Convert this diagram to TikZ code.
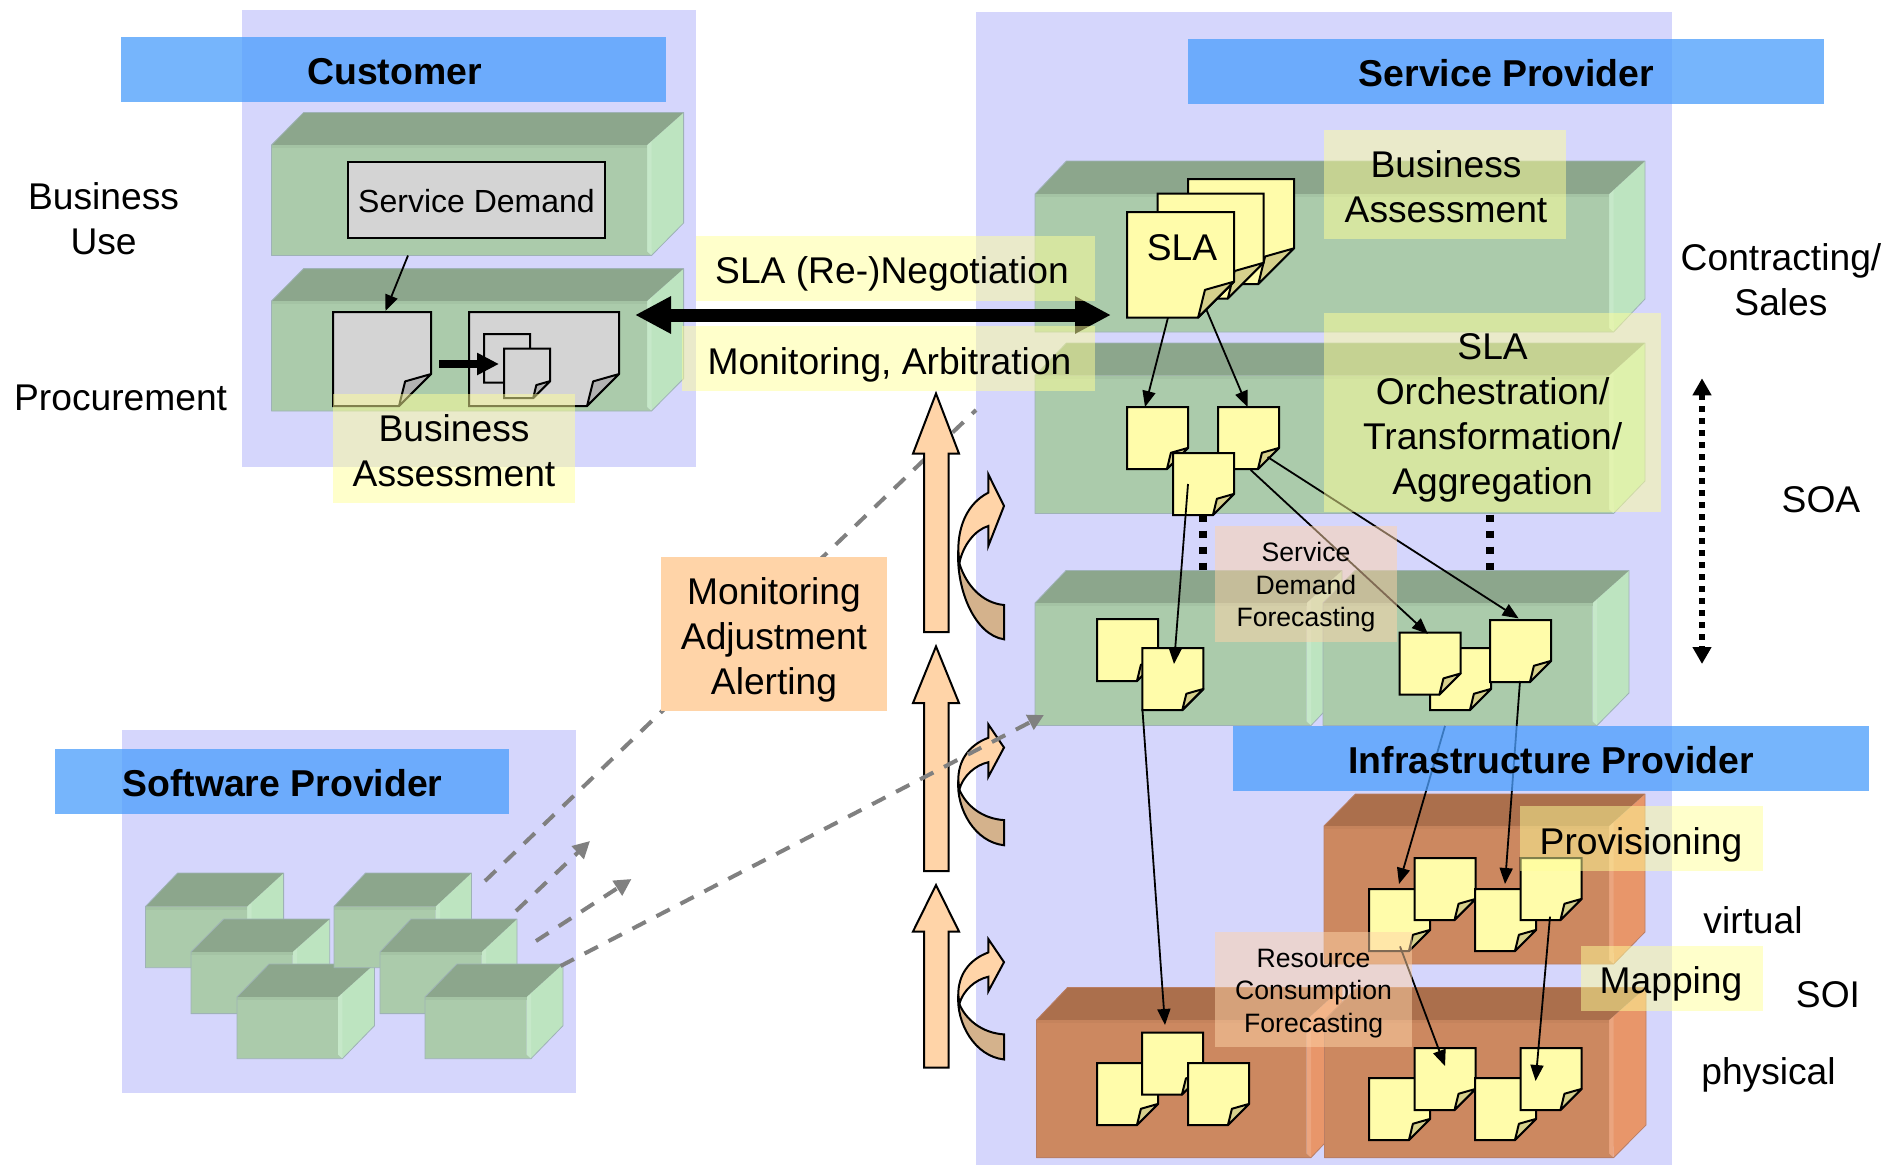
\documentclass[tikz,border=0pt]{standalone}
\usepackage{fontspec}
\setmainfont{Liberation Sans}
\usetikzlibrary{arrows.meta}
\definecolor{panelc}{RGB}{213,214,252}
\definecolor{barc}{RGB}{76,158,252}
\definecolor{labely}{RGB}{255,255,153}
\definecolor{peach}{RGB}{255,212,168}
\definecolor{tanc}{RGB}{212,178,140}
\definecolor{gfront}{RGB}{171,203,171}
\definecolor{gtop}{RGB}{140,166,140}
\definecolor{gside}{RGB}{189,228,192}
\definecolor{ofront}{RGB}{204,136,96}
\definecolor{otop}{RGB}{171,111,76}
\definecolor{oside}{RGB}{232,150,106}
\definecolor{docy}{RGB}{255,252,170}
\definecolor{flapy}{RGB}{214,208,140}
\definecolor{docg}{RGB}{212,212,212}
\definecolor{flapg}{RGB}{178,178,178}
\definecolor{dashc}{RGB}{128,128,128}
\colorlet{gcubegtop}{gtop}\colorlet{gcubegside}{gside}
\colorlet{gcubeotop}{otop}\colorlet{gcubeoside}{oside}
\definecolor{gcubegedge}{RGB}{158,178,182}
\definecolor{gcubeoedge}{RGB}{186,126,100}
\tikzset{
  txt/.style={inner sep=0pt,align=center,font=\fontsize{37.2}{45}\selectfont},
  txtb/.style={inner sep=0pt,align=center,font=\fontsize{37.4}{45}\selectfont\bfseries},
  txts/.style={inner sep=0pt,align=center,font=\fontsize{26.6}{32.5}\selectfont},
  panel/.style={fill=panelc},
  bar/.style={fill=barc,fill opacity=.76},
  ylabel/.style={fill=labely,fill opacity=.5},
  plabel/.style={fill=peach,fill opacity=.5},
  docline/.style={draw=black,line width=2pt},
  thin arrow/.style={-{Triangle[length=16pt,width=13pt]},line width=1.8pt,black},
  greydash/.style={draw=dashc,line width=4pt,dash pattern=on 15pt off 12pt},
  greytip/.style={-{Triangle[length=16pt,width=16pt]}},
  uparrow/.style={draw=black,line width=2pt,fill=peach},
  squaredots/.style={line width=8pt,dash pattern=on 7.5pt off 8.5pt},
}
% name, x0, xf, xb, ytopback, yfronttop, ybottom, front, family
\newcommand\cube[9]{%
  \pgfmathsetmacro\cd{#4-#3}%
  \pgfmathsetmacro\cdy{#6-#5}%
  \coordinate (#1) at (#2,#6);
  \fill[gcube#9side] ({#3-4.5},#6) -- (#4,#5) -- (#4,{#7-\cdy}) -- (#3,#7) -- cycle;
  \fill[gcube#9side!86!white] ({#3-4.5},#6) -- (#3,{#6-4}) -- (#3,#7) -- ({#3-4.5},{#7-4}) -- cycle;
  \fill[#8] (#2,#6) -- ({#3-4.5},#6) -- ({#3-4.5},{#7-4}) -- (#3,#7) -- (#2,#7) -- cycle;
  \fill[gcube#9top] (#2,#6) -- ({#2+\cd},#5) -- (#4,#5) -- ({#3-4.5},#6) -- cycle;
  \fill[#8!78!gcube#9top] (#2,#6) -- ({#3-4.5},#6) -- ({#3-4.5},{#6+3}) -- (#2,{#6+3}) -- cycle;
  \draw[gcube#9edge,line width=.8pt,line join=round] (#2,#7) -- (#2,#6) -- ({#2+\cd},#5) -- (#4,#5) -- (#4,{#7-\cdy}) -- (#3,#7) -- cycle;
}
\newcommand\gcube[7]{\cube{#1}{#2}{#3}{#4}{#5}{#6}{#7}{gfront}{g}}
\newcommand\ocube[7]{\cube{#1}{#2}{#3}{#4}{#5}{#6}{#7}{ofront}{o}}
% name, x, y, w, h, fill, flap
\newcommand\docu[7]{%
  \pgfmathsetmacro\fo{.34*#5}%
  \coordinate (#1) at ({#2+#4/2},{#3+#5/2});
  \draw[docline,fill=#6,line join=miter] (#2,#3) -- ({#2+#4},#3) -- ({#2+#4},{#3+#5-\fo}) -- ({#2+#4-\fo},{#3+#5}) -- (#2,{#3+#5}) -- cycle;
  \draw[docline,fill=#7,line join=round] ({#2+#4},{#3+#5-\fo}) -- ({#2+#4-.81*\fo},{#3+#5-.77*\fo}) -- ({#2+#4-\fo},{#3+#5}) -- cycle;
}
\newcommand\ydoc[3]{\docu{#1}{#2}{#3}{61}{62}{docy}{flapy}}
% up arrow: top y, head base y, bottom y
\newcommand\upa[3]{%
  \draw[uparrow,line join=miter] (936,#1) -- (959,#2) -- (948.5,#2) -- (948.5,#3) -- (924,#3) -- (924,#2) -- (913,#2) -- cycle;
}
% curved arrow: top y, y scale
\newcommand\bendarrow[2]{%
  \begin{scope}[shift={(0,#1)},yscale=#2]
    \draw[line width=2pt,fill=tanc] (958.3,75.7) .. controls (956,115.7) and (975,160.7) .. (1004,165) -- (1004,130.7) .. controls (982,128.7) and (966,110.7) .. (959.3,89) -- cycle;
    \draw[line width=2pt,fill=peach,line join=miter] (958.3,75.7) .. controls (958.3,50.7) and (968,28.7) .. (988.3,18.4) -- (988.3,0) -- (1004,31.7) -- (988.3,71.7) -- (988.3,51.7) .. controls (975,55.7) and (963,70.7) .. (959.3,89) -- cycle;
  \end{scope}
}
\begin{document}
\begin{tikzpicture}[x=1pt,y=-1pt]
\useasboundingbox (0,0) rectangle (1899,1165);
\fill[white] (0,0) rectangle (1899,1165);
% panels
\fill[panel] (242,10) rectangle (696,467);
\fill[panel] (976,12) rectangle (1672,1165);
\fill[panel] (122,730) rectangle (576,1093);
% connector end points
\coordinate (d1a) at (485,881);
\coordinate (d1b) at (976,410);
\coordinate (d2a) at (516,911);
\coordinate (d2b) at (590,841);
\coordinate (d3a) at (536,941);
\coordinate (d3b) at (631.5,879);
\coordinate (d4a) at (560.6,966);
\coordinate (d4b) at (1044,715);
% dashed line behind the up arrows
\draw[greydash] (d1a) -- (d1b);
% up and curved arrows
\upa{393.5}{453.6}{632}
\upa{646.4}{703}{871}
\upa{885}{931.5}{1067.7}
\bendarrow{474.3}{1}
\bendarrow{724.3}{.733}
\bendarrow{939}{.73}
% cubes, customer
\gcube{cu1}{271.5}{651.5}{683.6}{112.5}{145}{255.5}
\gcube{cu2}{271.5}{651.5}{683.6}{268.6}{301}{411}
% service provider
\gcube{sp1}{1035}{1613.6}{1645}{161}{194}{332}
\gcube{sp2}{1035}{1613.6}{1645}{343}{375.5}{513.5}
\gcube{sp3}{1035}{1311}{1342}{570.5}{603}{725.5}
\gcube{sp4}{1323}{1597}{1629}{570.5}{603}{725.5}
% infrastructure provider
\ocube{ip1}{1324}{1613.6}{1645}{794}{826}{964}
\ocube{ip2}{1036.5}{1311}{1342}{987.5}{1020}{1157.6}
\ocube{ip3}{1324.5}{1613.6}{1646}{987.5}{1020}{1157.6}
% software provider
\gcube{sw1}{145.5}{251.5}{283.6}{873}{906.5}{967.7}
\gcube{sw2}{191}{297}{329.7}{919}{952}{1013.6}
\gcube{sw3}{237}{342.4}{374.5}{964}{997}{1058.7}
\gcube{sw4}{334}{440}{471.5}{873}{906.5}{967.7}
\gcube{sw5}{380}{486}{517}{919}{952}{1013.6}
\gcube{sw6}{425}{531}{563}{964}{997}{1058.7}
% grey dashed arrows
\draw[greydash,-{Triangle[length=17pt,width=17pt]}] (d2a) -- (d2b);
\draw[greydash,-{Triangle[length=17pt,width=17pt]}] (d3a) -- (d3b);
\draw[greydash,greytip] (d4a) -- (d4b);
% customer documents
\node[draw=black,line width=2pt,fill=docg,minimum width=257pt,minimum height=75.5pt,inner sep=0pt,text depth=0pt,font=\fontsize{32}{38}\selectfont] (sdem) at (476.5,199.8) {\raisebox{-2.5pt}{Service Demand}};
\docu{g1}{333}{312}{98}{94}{docg}{flapg}
\docu{g2}{469}{312}{150}{94}{docg}{flapg}
\docu{g3}{484}{334}{46}{48.5}{docg}{flapg}
\docu{g4}{504}{348.5}{46}{49.5}{docg}{flapg}
% SLA documents
\docu{s3}{1188}{179}{106}{105}{docy}{flapy}
\docu{s2}{1157.5}{193.5}{106}{105}{docy}{flapy}
\docu{s1}{1127}{212}{107}{105.5}{docy}{flapy}
\node[txt] (slatxt) at (1182,248) {SLA};
\ydoc{a}{1127}{407}
\ydoc{b}{1218}{407}
\ydoc{c}{1173}{453}
\ydoc{d1}{1097}{619}
\ydoc{d2}{1142.4}{648}
\ydoc{r2}{1430}{648}
\ydoc{r1}{1399.5}{632.6}
\ydoc{r3}{1490}{620}
\ydoc{v1}{1369}{889}
\ydoc{v2}{1414.6}{858}
\ydoc{v3}{1475}{889}
\ydoc{v4}{1520.5}{858}
\ydoc{p1}{1097}{1063}
\ydoc{p2}{1142}{1032.6}
\ydoc{p3}{1188}{1063}
\ydoc{q1}{1369}{1078}
\ydoc{q2}{1414.6}{1048}
\ydoc{q3}{1475}{1078}
\ydoc{q4}{1520.5}{1048}
% connector end points
\coordinate (e1a) at (408,255.5); \coordinate (e1b) at (385.5,311);
\coordinate (e2a) at (439,364);   \coordinate (e2b) at (499,364);
\coordinate (e3a) at (635,315);   \coordinate (e3b) at (1111,315);
\coordinate (e4a) at (1168,317.5);\coordinate (e4b) at (1145,407);
\coordinate (e5a) at (1206.5,310);\coordinate (e5b) at (1247.6,407);
\coordinate (e6a) at (1188,484);  \coordinate (e6b) at (1174,664);
\coordinate (e7a) at (1250.7,470);\coordinate (e7b) at (1428,634);
\coordinate (e8a) at (1267.6,457);\coordinate (e8b) at (1518.6,618.4);
\coordinate (e9a) at (1142.4,709);\coordinate (e9b) at (1165,1025);
\coordinate (e10a) at (1445,726); \coordinate (e10b) at (1399,884);
\coordinate (e11a) at (1520,681); \coordinate (e11b) at (1505,884);
\coordinate (e12a) at (1400,946.4);\coordinate (e12b) at (1445,1066);
\coordinate (e13a) at (1550,916.6);\coordinate (e13b) at (1535.6,1081);
\coordinate (f1a) at (1203,514.7); \coordinate (f1b) at (1203,570);
\coordinate (f2a) at (1490,514.7); \coordinate (f2b) at (1490,570);
\coordinate (f3a) at (1702,378.3); \coordinate (f3b) at (1702,664);
% connectors
\draw[thin arrow] (e1a) -- (e1b);
\draw[-{Triangle[length=22pt,width=21pt]},line width=8pt] (e2a) -- (e2b);
\draw[{Triangle[length=36pt,width=35pt]}-{Triangle[length=36pt,width=35pt]},line width=13pt] (e3a) -- (e3b);
\foreach \n in {4,...,13} {\draw[thin arrow] (e\n a) -- (e\n b);}
\draw[squaredots] (f1a) -- (f1b);
\draw[squaredots] (f2a) -- (f2b);
\draw[{Triangle[length=17pt,width=18pt]}-{Triangle[length=17pt,width=18pt]},line width=6pt,dash pattern=on 6pt off 6pt] (f3a) -- (f3b);
% translucent labels
\fill[ylabel] (333,394) rectangle (575,503);
\node[txt] (ba1) at (454,450.5) {Business\\Assessment};
\fill[ylabel] (696,236) rectangle (1095,301);
\node[txt] (neg) at (892,273.5) {SLA (Re-)Negotiation};
\fill[ylabel] (682,326) rectangle (1095,391);
\node[txt] (mon) at (889.5,364.5) {Monitoring, Arbitration};
\fill[ylabel] (1324,130) rectangle (1566,239);
\node[txt] (ba2) at (1446,187) {Business\\Assessment};
\fill[ylabel] (1324,313) rectangle (1661,512);
\node[txt] (orch) at (1492.6,418) {SLA\\Orchestration/\\Transformation/\\Aggregation};
\fill[plabel] (1215,526) rectangle (1397,641.6);
\node[txts] (sdf) at (1306,587.5) {Service\\Demand\\Forecasting};
\fill[plabel] (1215,931.5) rectangle (1411.6,1047);
\node[txts] (rcf) at (1313.6,993.5) {Resource\\Consumption\\Forecasting};
\fill[ylabel] (1520,806) rectangle (1762.5,870.7);
\node[txt] (prov) at (1641,844.5) {Provisioning};
\fill[ylabel] (1581,946) rectangle (1762.5,1011);
\node[txt] (map) at (1671,983.5) {Mapping};
% monitoring box
\fill[peach] (661,557) rectangle (887,710.6);
\node[txt] (maa) at (774,640) {Monitoring\\Adjustment\\Alerting};
% bars
\fill[bar] (121,37) rectangle (666,102);
\node[txtb] (cust) at (394.5,72) {Customer};
\fill[bar] (1188,39) rectangle (1823.5,104);
\node[txtb] (spr) at (1506.5,73) {Service Provider};
\fill[bar] (1233,726) rectangle (1869,791);
\node[txtb] (ipr) at (1551,760) {Infrastructure Provider};
\fill[bar] (55,749) rectangle (509,814);
\node[txtb] (swp) at (282.4,783) {Software Provider};
% side texts
\node[txt] (bu) at (103.6,218.5) {Business\\Use};
\node[txt] (proc) at (120.6,398) {Procurement};
\node[txt] (cs) at (1781,280) {Contracting/\\Sales};
\node[txt] (soa) at (1821,499.5) {SOA};
\node[txt] (virt) at (1753,920) {virtual};
\node[txt] (soi) at (1828,995) {SOI};
\node[txt] (phys) at (1768.5,1075) {physical};
\end{tikzpicture}
\end{document}
